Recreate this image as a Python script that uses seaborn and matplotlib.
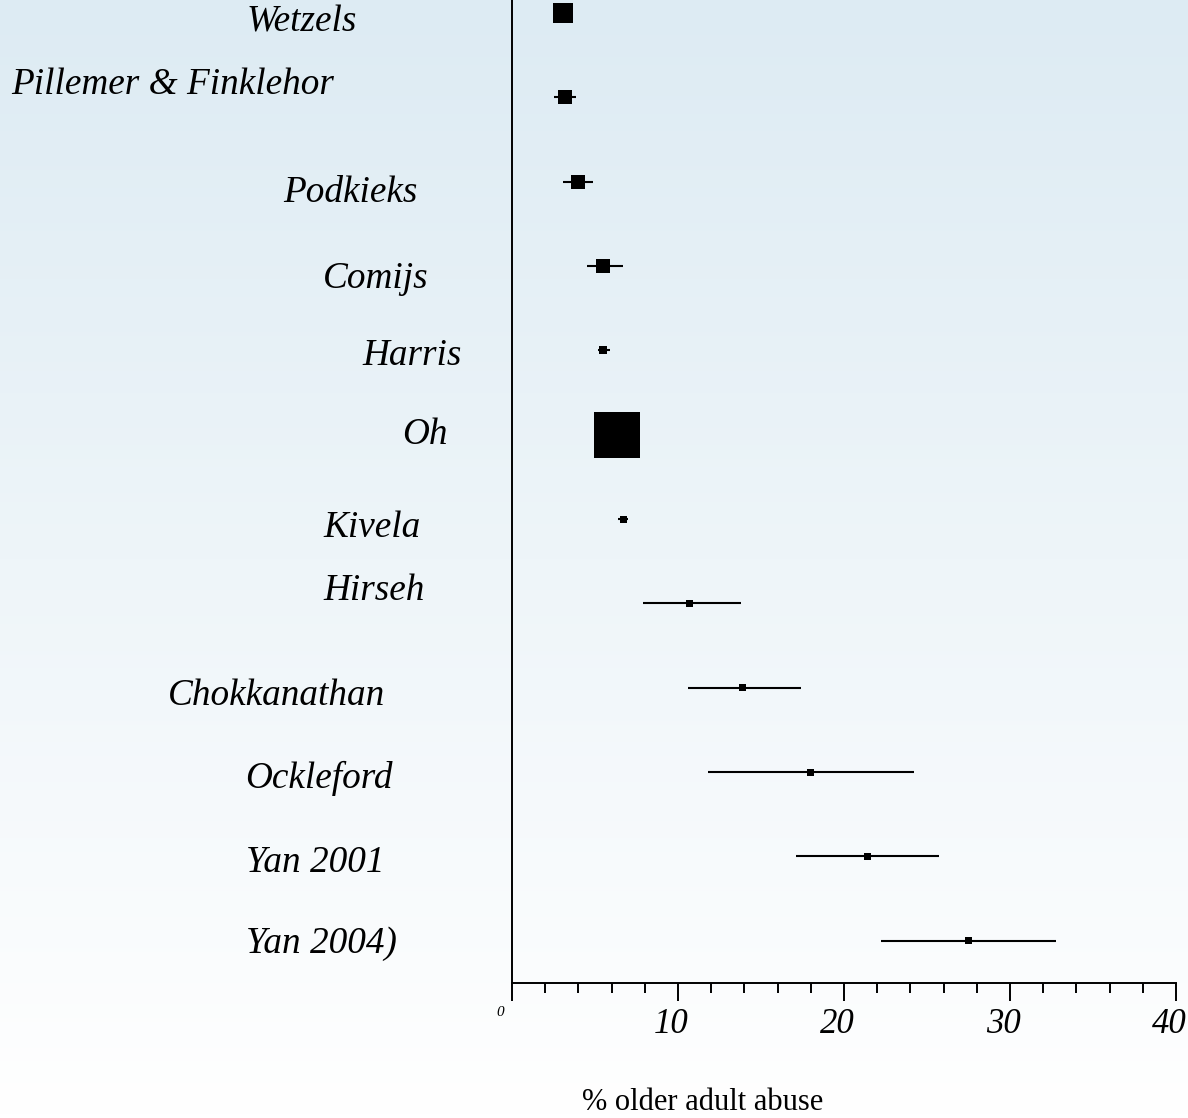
import numpy as np
import matplotlib.pyplot as plt
import matplotlib.transforms as mtrans
import seaborn as sns
import pandas as pd

# study estimates (% older adult abuse) with confidence limits
studies = ['Wetzels', 'Pillemer & Finklehor', 'Podkieks', 'Comijs', 'Harris', 'Oh',
           'Kivela', 'Hirseh', 'Chokkanathan', 'Ockleford', 'Yan 2001', 'Yan 2004)']
estimate = [3.1, 3.2, 4.0, 5.5, 5.5, 6.3, 6.7, 10.7, 13.9, 18.0, 21.4, 27.5]
lower = [2.6, 2.5, 3.1, 4.5, 5.2, 5.8, 6.4, 7.9, 10.6, 11.8, 17.1, 22.2]
upper = [3.6, 3.85, 4.9, 6.7, 5.9, 6.8, 7.0, 13.8, 17.4, 24.2, 25.7, 32.8]
# study weight, drawn as square size (px)
weight = [20, 14, 14, 14, 8, 46, 7, 7, 7, 7, 7, 7]

# label layout in pixels (left edge, baseline)
label_x = [247, 11, 283, 323, 362, 402, 323, 323, 168, 245, 246, 246]
label_y = [32, 94, 202, 288, 365, 444, 537, 600, 705, 788, 872, 953]

W, H = 1188, 1118
df = pd.DataFrame({'study': studies, 'est': estimate, 'lo': lower, 'hi': upper,
                   'w': weight, 'row': np.arange(len(studies))})

sns.set_theme(style='white')
plt.rcParams['font.family'] = ['Liberation Serif', 'DejaVu Serif']

fig = plt.figure(figsize=(W / 100, H / 100), dpi=100)
fig.patch.set_facecolor('white')

# background gradient, light blue at top fading to white
bg = fig.add_axes([0, 0, 1, 1], zorder=-1)
grad = np.linspace(0, 1, 256).reshape(-1, 1)
top = np.array([221, 235, 243]) / 255
img = top[None, None, :] * (1 - grad[:, :, None]) + np.ones(3)[None, None, :] * grad[:, :, None]
bg.imshow(img, aspect='auto', extent=[0, 1, 0, 1], origin='upper')
bg.axis('off')

ax = fig.add_axes([512 / W, (H - 983) / H, 664 / W, 983 / H])
ax.patch.set_alpha(0)

ax.hlines(df['row'], df['lo'], df['hi'], color='black', lw=1.5, zorder=2)
sns.scatterplot(data=df, x='est', y='row', marker='s', color='black',
                s=(df['w'] * 0.72) ** 2, linewidth=0, ax=ax, zorder=3, legend=False)

ax.set_xlim(0, 40)
ax.set_ylim(11.5, -0.154)
ax.set_yticks([])
ax.set_xticks([0, 10, 20, 30, 40])
ax.set_xticklabels(['', '10', '20', '30', '40'], fontstyle='italic', fontsize=25,
                   color='black')
ax.set_xticks(np.arange(0, 41, 2), minor=True)
ax.tick_params(axis='x', which='major', direction='out', length=13, width=1.4,
               color='black', pad=5, bottom=True, labelcolor='black')
ax.tick_params(axis='x', which='minor', direction='out', length=7.5, width=1.4,
               color='black', bottom=True)
# tick numbers sit a little left of their ticks
shift = mtrans.ScaledTranslation(-7 / 100, 0, fig.dpi_scale_trans)
for lab in ax.get_xticklabels():
    lab.set_transform(lab.get_transform() + shift)
ax.set_xlabel('')
ax.set_ylabel('')
for side in ['top', 'right']:
    ax.spines[side].set_visible(False)
for side in ['left', 'bottom']:
    ax.spines[side].set_color('black')
    ax.spines[side].set_linewidth(1.4)

for name, lx, ly in zip(studies, label_x, label_y):
    fig.text(lx / W, 1 - ly / H, name, ha='left', va='baseline',
             fontstyle='italic', fontsize=26.8, color='black')

fig.text(500 / W, 1 - 1013 / H, '0', ha='center', va='center',
         fontstyle='italic', fontsize=11, color='black')
fig.text(703 / W, 1 - 1102 / H, '% older adult abuse', ha='center', va='center',
         fontsize=22, color='black')

fig.savefig('out.png', dpi=100)
